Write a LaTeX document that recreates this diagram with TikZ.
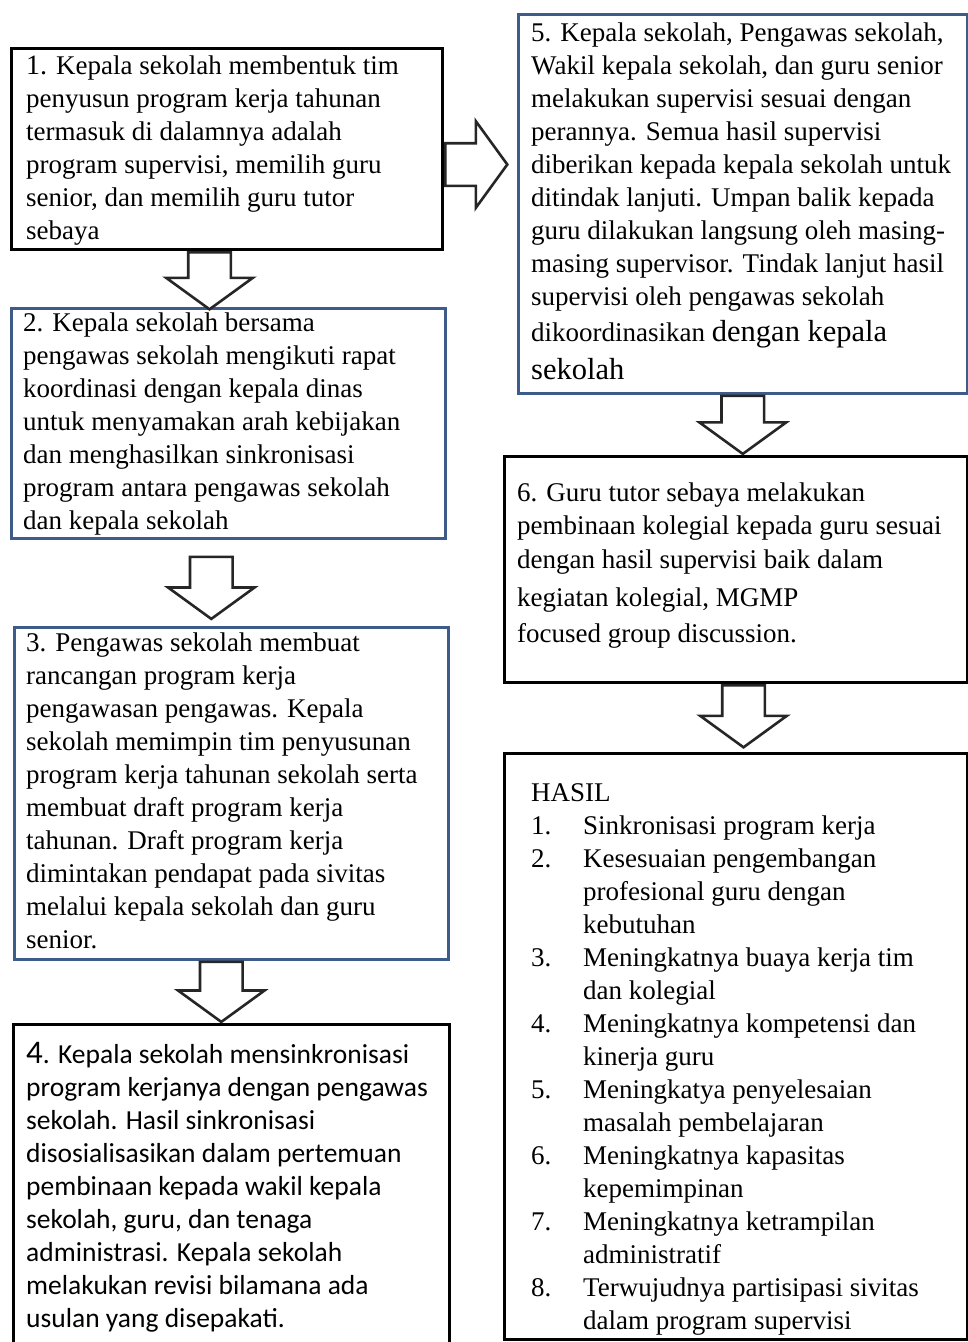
\documentclass[tikz,border=0pt]{standalone}
\usepackage{fontspec}
\setmainfont{Liberation Serif}
\newfontfamily\calibri{Carlito}
\usepackage{xcolor}
\usetikzlibrary{shapes.arrows}
\definecolor{boxblue}{RGB}{62,92,138}
\newcommand{\hitem}[1]{\makebox[52pt][l]{#1.}}
\newcommand{\hcont}{\hspace*{52pt}}

\begin{document}
\begin{tikzpicture}[x=1pt, y=-1pt,
    blackbox/.style={draw=black, line width=3pt, anchor=north west, inner sep=0pt},
    bluebox/.style={draw=boxblue, line width=2.6pt, anchor=north west, inner sep=0pt},
    txt/.style={anchor=north west, inner sep=0pt, align=left, font=\fontsize{27}{33}\selectfont},
    blockarrow/.style={single arrow, draw=black!85, fill=white, line width=2.6pt,
      inner xsep=0pt, inner ysep=20pt, single arrow head extend=22pt,
      single arrow tip angle=108, anchor=tail}]
  \useasboundingbox (0,0) rectangle (968,1342);

  % left column
  \node[blackbox, minimum width=431, minimum height=201] (b1) at (10,47) {};
  \node[bluebox,  minimum width=434, minimum height=230] (b2) at (10,307) {};
  \node[bluebox,  minimum width=434, minimum height=332] (b3) at (13,626) {};
  \node[blackbox, minimum width=436, minimum height=337] (b4) at (12,1023) {};
  % right column
  \node[bluebox,  minimum width=449, minimum height=379] (b5) at (517,13) {};
  \node[blackbox, minimum width=463, minimum height=226] (b6) at (503,455) {};
  \node[blackbox, minimum width=463, minimum height=586] (b7) at (503,752) {};

  \node[txt] (t1) at ([shift={(16,9)}]b1.north west)
    {{\fontsize{28}{33}\selectfont 1.} Kepala sekolah membentuk tim\\
     penyusun program kerja tahunan\\
     termasuk di dalamnya adalah\\
     program supervisi, memilih guru\\
     senior, dan memilih guru tutor\\
     sebaya};
  \node[txt] (t2) at ([shift={(13,6)}]b2.north west)
    {2. Kepala sekolah bersama\\
     pengawas sekolah mengikuti rapat\\
     koordinasi dengan kepala dinas\\
     untuk menyamakan arah kebijakan\\
     dan menghasilkan sinkronisasi\\
     program antara pengawas sekolah\\
     dan kepala sekolah};
  \node[txt] (t3) at ([shift={(13,7)}]b3.north west)
    {3. Pengawas sekolah membuat\\
     rancangan program kerja\\
     pengawasan pengawas. Kepala\\
     sekolah memimpin tim penyusunan\\
     program kerja tahunan sekolah serta\\
     membuat draft program kerja\\
     tahunan. Draft program kerja\\
     dimintakan pendapat pada sivitas\\
     melalui kepala sekolah dan guru\\
     senior.};
  \node[txt, font=\calibri\fontsize{27.5}{33}\selectfont] (t4) at ([shift={(14,19)}]b4.north west)
    {{\fontsize{33}{33}\selectfont 4}. Kepala sekolah mensinkronisasi\\
     program kerjanya dengan pengawas\\
     sekolah. Hasil sinkronisasi\\
     disosialisasikan dalam pertemuan\\
     pembinaan kepada wakil kepala\\
     sekolah, guru, dan tenaga\\
     administrasi. Kepala sekolah\\
     melakukan revisi bilamana ada\\
     usulan yang disepakati.};
  \node[txt] (t5) at ([shift={(14,10)}]b5.north west)
    {5. Kepala sekolah, Pengawas sekolah,\\
     Wakil kepala sekolah, dan guru senior\\
     melakukan supervisi sesuai dengan\\
     perannya. Semua hasil supervisi\\
     diberikan kepada kepala sekolah untuk\\
     ditindak lanjuti. Umpan balik kepada\\
     guru dilakukan langsung oleh masing-\\
     masing supervisor. Tindak lanjut hasil\\
     supervisi oleh pengawas sekolah\\[3pt]
     dikoordinasikan {\fontsize{30.5}{33}\selectfont dengan kepala}\\[5pt]
     {\fontsize{30.5}{33}\selectfont sekolah}};
  \node[txt] (t6) at ([shift={(14,28)}]b6.north west)
    {6. Guru tutor sebaya melakukan\\
     pembinaan kolegial kepada guru sesuai\\[1pt]
     dengan hasil supervisi baik dalam\\[5pt]
     kegiatan kolegial, MGMP\\[3pt]
     focused group discussion.};
  \node[txt] (t7) at ([shift={(28,31)}]b7.north west)
    {HASIL\\
     \hitem{1}Sinkronisasi program kerja\\
     \hitem{2}Kesesuaian pengembangan\\
     \hcont profesional guru dengan\\
     \hcont kebutuhan\\
     \hitem{3}Meningkatnya buaya kerja tim\\
     \hcont dan kolegial\\
     \hitem{4}Meningkatnya kompetensi dan\\
     \hcont kinerja guru\\
     \hitem{5}Meningkatya penyelesaian\\
     \hcont masalah pembelajaran\\
     \hitem{6}Meningkatnya kapasitas\\
     \hcont kepemimpinan\\
     \hitem{7}Meningkatnya ketrampilan\\
     \hcont administratif\\
     \hitem{8}Terwujudnya partisipasi sivitas\\
     \hcont dalam program supervisi};

  % block arrows
  \node[blockarrow, rotate=-90, minimum height=57] (a12) at ([xshift=-17.5pt]b1.south) {};
  \node[blockarrow, rotate=-90, minimum height=62] (a23) at ([xshift=-17pt, yshift=-16pt]b2.south) {};
  \node[blockarrow, rotate=-90, minimum height=60] (a34) at ([xshift=-10pt]b3.south) {};
  \node[blockarrow, minimum height=62] (a15) at ([yshift=-15.5pt]b1.east) {};
  \node[blockarrow, rotate=-90, minimum height=58] (a56) at (b5.south) {};
  \node[blockarrow, rotate=-90, minimum height=62] (a67) at ([xshift=7.5pt]b6.south) {};
\end{tikzpicture}
\end{document}
